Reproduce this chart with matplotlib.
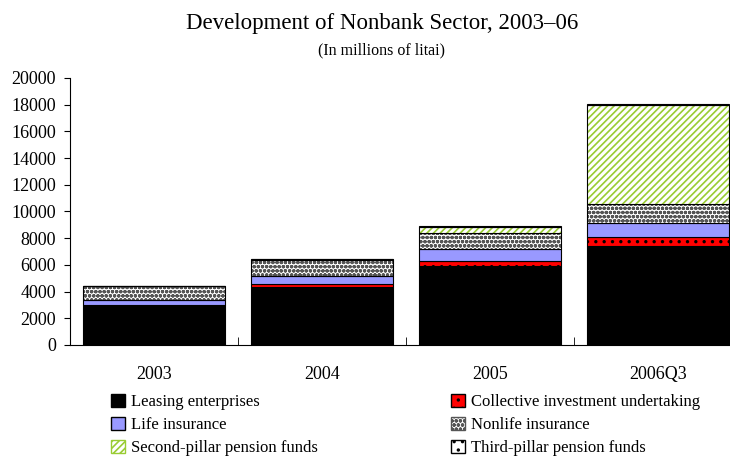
import matplotlib.pyplot as plt
from matplotlib.patches import Patch
import numpy as np

plt.rcParams['font.family'] = ['Liberation Serif', 'DejaVu Serif']
plt.rcParams['hatch.linewidth'] = 1.2

years = ['2003', '2004', '2005', '2006Q3']
leasing = [3000, 4370, 5940, 7440]
collective = [10, 230, 380, 630]
life = [330, 540, 850, 1050]
nonlife = [1080, 1200, 1200, 1420]
second = [0, 80, 500, 7460]
third = [5, 20, 30, 40]

series = [
    ('Leasing enterprises', leasing, 'black', None, 'black'),
    ('Collective investment undertaking', collective, 'red', '..', 'black'),
    ('Life insurance', life, '#9999ff', None, '#9999ff'),
    ('Nonlife insurance', nonlife, 'white', 'oooo', '#555555'),
    ('Second-pillar pension funds', second, 'white', '/////', '#99cc33'),
    ('Third-pillar pension funds', third, 'white', '..', 'black'),
]

fig = plt.figure(figsize=(7.3, 4.59), dpi=100)
ax = fig.add_axes([0.0959, 0.2484, 0.92, 0.5817])

x = np.arange(len(years))
bottom = np.zeros(len(years))
handles = []
for name, vals, fc, hatch, hc in series:
    vals = np.array(vals, dtype=float)
    ax.bar(x, vals, 0.845, bottom=bottom, color=fc, edgecolor=hc,
           hatch=hatch, linewidth=0)
    ax.bar(x, vals, 0.845, bottom=bottom, fill=False, edgecolor='black',
           linewidth=0.8)
    bottom += vals
    handles.append(Patch(facecolor=fc, edgecolor=hc if hatch else 'black',
                         hatch=hatch, label=name))

ax.set_xlim(-0.5, 3.5)
ax.set_ylim(0, 20000)
ax.set_yticks(range(0, 20001, 2000))
ax.set_xticks(x)
ax.set_xticklabels(years)
ax.set_xticks(np.arange(-0.5, 3.6, 1), minor=True)
ax.tick_params(axis='x', which='major', length=0, pad=15, labelsize=13)
ax.tick_params(axis='x', which='minor', length=6, direction='in')
ax.tick_params(axis='y', direction='out', length=4, labelsize=13, pad=6)
ax.spines['top'].set_visible(False)
ax.spines['right'].set_visible(False)

fig.text(0.523, 0.948, 'Development of Nonbank Sector, 2003\u201306',
         ha='center', va='center', fontsize=16.5)
fig.text(0.523, 0.891, '(In millions of litai)', ha='center', va='center',
         fontsize=11.5)

order = [0, 2, 4, 1, 3, 5]
fig.legend([handles[i] for i in order], [series[i][0] for i in order],
           ncol=2, loc='upper left', bbox_to_anchor=(0.141, 0.16),
           frameon=False, fontsize=12, handlelength=0.8, handleheight=0.8,
           handletextpad=0.4, columnspacing=8.0, labelspacing=0.42,
           borderpad=0)

fig.savefig('out.png', dpi=100)
